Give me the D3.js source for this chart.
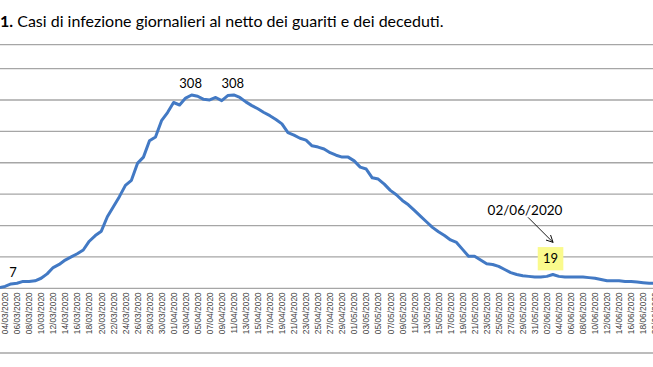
<!DOCTYPE html>
<html>
<head>
<meta charset="utf-8">
<script src="https://cdn.jsdelivr.net/npm/d3@7"></script>
<style>
  html, body { margin: 0; padding: 0; background: #fff; }
  svg { display: block; font-family: Lato, "Open Sans", sans-serif; }
</style>
</head>
<body>
<div id="chart"></div>
<script>
// Daily net infections (cases minus recovered and deceased), 02/03/2020 .. 20/06/2020
const firstDay = new Date(2020, 2, 2);
const lastDay = new Date(2020, 5, 20);

const values = [
  0, 1, 3, 7, 8, 11, 11, 12, 16, 23,
  33, 38, 45, 50, 55, 61, 75, 84, 91, 114,
  130, 146, 164, 172, 199, 209, 235, 241, 267, 280,
  296, 292, 303, 308, 306, 301, 300, 304, 299, 307,
  308, 304, 297, 291, 286, 280, 275, 269, 262, 248,
  244, 239, 236, 227, 225, 222, 216, 212, 209, 209,
  203, 193, 190, 176, 174, 166, 156, 149, 140, 133,
  124, 115, 106, 97, 90, 84, 77, 73, 62, 51,
  51, 45, 39, 38, 35, 30, 25, 22, 20, 19,
  18, 18, 19, 22, 19, 18, 18, 18, 18, 17,
  16, 14, 12, 12, 12, 11, 11, 10, 9, 8,
  8
];

const gridValues = [0, 50, 100, 150, 200, 250, 300, 350];

// labelled points: [date, value text]
const peakLabels = [['04/04/2020', '308'], ['11/04/2020', '308']];
const startLabel = ['05/03/2020', '7'];
const calloutDate = '02/06/2020';
const calloutValue = 19;

const fmt = d3.timeFormat('%d/%m/%Y');
const dates = d3.timeDay.range(firstDay, d3.timeDay.offset(lastDay, 1)).map(fmt);
const data = dates.map((d, i) => ({ date: d, value: values[i] }));
// every other day, starting at 04/03/2020
const tickLabels = dates.filter((d, i) => i >= 2 && (i - 2) % 2 === 0);

const width = 653;
const height = 367;

const svg = d3.select('#chart')
  .append('svg')
  .attr('width', width)
  .attr('height', height);

// title
const title = svg.append('text')
  .attr('x', 0)
  .attr('y', 26.5)
  .attr('font-size', '16px')
  .attr('fill', '#000');
title.append('tspan').attr('font-weight', 'bold').text('1.');
title.append('tspan').text(' Casi di infezione giornalieri al netto dei guariti e dei deceduti.');

// scales: category axis, one step per day
const x = d3.scalePoint()
  .domain(dates)
  .range([-7.04, 655.2]);

const y = d3.scaleLinear()
  .domain([0, 350])
  .range([288.3, 68.6]);

// chart frame lines (top and bottom border of the chart object)
svg.append('line')
  .attr('x1', 0).attr('x2', width)
  .attr('y1', 44.7).attr('y2', 44.7)
  .attr('stroke', '#a6a6a6')
  .attr('stroke-width', 1.3);
svg.append('line')
  .attr('x1', 0).attr('x2', width)
  .attr('y1', 353).attr('y2', 353)
  .attr('stroke', '#a6a6a6')
  .attr('stroke-width', 1.3);

// gridlines
svg.append('g')
  .attr('class', 'grid')
  .selectAll('line')
  .data(gridValues)
  .enter()
  .append('line')
  .attr('x1', 0)
  .attr('x2', width)
  .attr('y1', d => y(d))
  .attr('y2', d => y(d))
  .attr('stroke', '#a6a6a6')
  .attr('stroke-width', 1.3);

// x axis labels, rotated
const xAxis = d3.axisBottom(x)
  .tickValues(tickLabels)
  .tickSize(0)
  .tickPadding(0);

const axisG = svg.append('g')
  .attr('transform', `translate(0,${y(0)})`)
  .call(xAxis);
axisG.select('.domain').remove();
axisG.selectAll('text')
  .attr('transform', 'rotate(-90)')
  .attr('x', -4)
  .attr('y', 0)
  .attr('dy', '0.32em')
  .attr('text-anchor', 'end')
  .attr('font-family', '"Liberation Sans", Arial, sans-serif')
  .attr('font-size', '8.4px')
  .attr('fill', '#404040');

// series line
const line = d3.line()
  .x(d => x(d.date))
  .y(d => y(d.value));

svg.append('path')
  .datum(data)
  .attr('d', line)
  .attr('fill', 'none')
  .attr('stroke', '#4279c4')
  .attr('stroke-width', 3)
  .attr('stroke-linejoin', 'round')
  .attr('stroke-linecap', 'round');

// data labels
svg.selectAll('.peak-label')
  .data(peakLabels)
  .enter()
  .append('text')
  .attr('class', 'peak-label')
  .attr('x', d => x(d[0]) - 1)
  .attr('y', d => y(+d[1]) - 7)
  .attr('text-anchor', 'middle')
  .attr('font-size', '13px')
  .attr('fill', '#000')
  .text(d => d[1]);

svg.append('text')
  .attr('x', x(startLabel[0]) + 2)
  .attr('y', y(+startLabel[1]) - 7)
  .attr('text-anchor', 'middle')
  .attr('font-size', '13px')
  .attr('fill', '#000')
  .text(startLabel[1]);

// callout for 02/06/2020
const cx = x(calloutDate) + 3.7;
const cy = y(calloutValue);

svg.append('defs').append('marker')
  .attr('id', 'arrowhead')
  .attr('markerWidth', 8)
  .attr('markerHeight', 8)
  .attr('refX', 7)
  .attr('refY', 4)
  .attr('orient', 'auto')
  .attr('markerUnits', 'userSpaceOnUse')
  .append('path')
  .attr('d', 'M0,0.5 L7,4 L0,7.5')
  .attr('fill', 'none')
  .attr('stroke', '#000')
  .attr('stroke-width', 0.9);

svg.append('rect')
  .attr('x', cx - 12.8)
  .attr('y', cy - 29.3)
  .attr('width', 25.6)
  .attr('height', 23.3)
  .attr('fill', '#fafa8c');

svg.append('text')
  .attr('x', cx)
  .attr('y', cy - 13)
  .attr('text-anchor', 'middle')
  .attr('font-size', '13px')
  .attr('fill', '#000')
  .text(calloutValue);

svg.append('line')
  .attr('x1', cx - 22.5)
  .attr('y1', cy - 59)
  .attr('x2', cx + 2.5)
  .attr('y2', cy - 34)
  .attr('stroke', '#000')
  .attr('stroke-width', 0.9)
  .attr('marker-end', 'url(#arrowhead)');

svg.append('text')
  .attr('x', cx - 25.5)
  .attr('y', cy - 61.5)
  .attr('text-anchor', 'middle')
  .attr('font-size', '13.5px')
  .attr('fill', '#000')
  .text(calloutDate);
</script>
</body>
</html>
